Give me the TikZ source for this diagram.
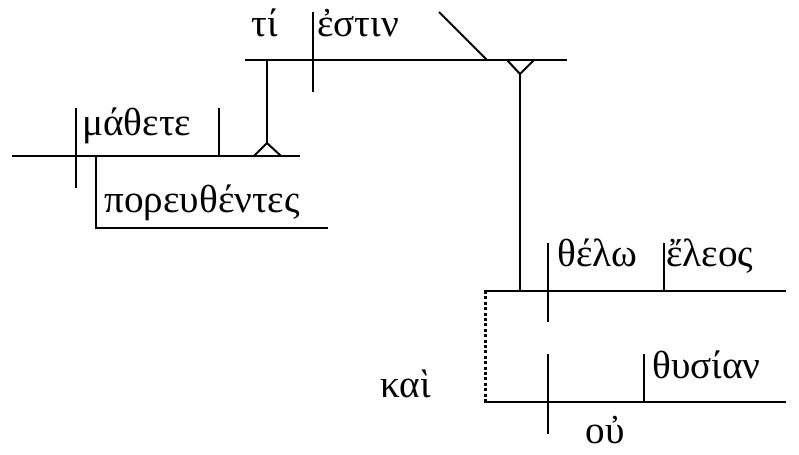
\documentclass[tikz,border=0pt]{standalone}
\usepackage{fontspec}
\setmainfont{Liberation Serif}
\usepackage{tikz}
\usetikzlibrary{positioning}

\tikzset{
  word/.style={anchor=base west, inner sep=0pt, font=\fontsize{19.6}{22}\selectfont},
  rule/.style={line width=1pt},
}

\begin{document}
\begin{tikzpicture}[x=0.5pt, y=-0.5pt]
    \useasboundingbox (0,0) rectangle (799,455);

    % Main clause: ti estin
    \draw[rule] (245,60) -- (567,60);
    \draw[rule] (313,12) -- (313,92);
    \draw[rule] (439,12) -- (487,60);
    \node[word] (ti) at (251,37) {τί};
    \node[word] (estin) at (317,37) {ἐστιν};

    % Subject clause on a pedestal
    \draw[rule] (267,60) -- (267,143);
    \draw[rule] (254,156) -- (267,143) -- (281,156);
    \draw[rule] (12,156) -- (300,156);
    \draw[rule] (76,108) -- (76,188);
    \draw[rule] (219,108) -- (219,156);
    \node[word] (mathete) at (82,135) {μάθετε};

    % Participle
    \draw[rule] (96,156) -- (96,228) -- (328,228);
    \node[word] (poreu) at (104,212) {πορευθέντες};

    % Predicate nominative clause on a pedestal
    \draw[rule] (507,60) -- (520,74) -- (534,60);
    \draw[rule] (520,74) -- (520,291);

    % Upper clause: thelo eleos
    \draw[rule] (484,291) -- (786,291);
    \draw[rule] (548,243) -- (548,322);
    \draw[rule] (664,243) -- (664,291);
    \node[word] (thelo) at (557,266) {θέλω};
    \node[word] (eleos) at (666,266) {ἔλεος};

    % Lower clause: ou thusian
    \draw[rule] (484,402) -- (786,402);
    \draw[rule] (548,354) -- (548,434);
    \draw[rule] (644,354) -- (644,402);
    \node[word] (thusian) at (652,378) {θυσίαν};
    \node[word] (ou) at (585,443) {οὐ};

    % Conjunction
    \draw[line width=1.5pt, dash pattern=on 1.5pt off 1.2pt] (485,291) -- (485,402);
    \node[word] (kai) at (380,397) {καὶ};
\end{tikzpicture}
\end{document}
